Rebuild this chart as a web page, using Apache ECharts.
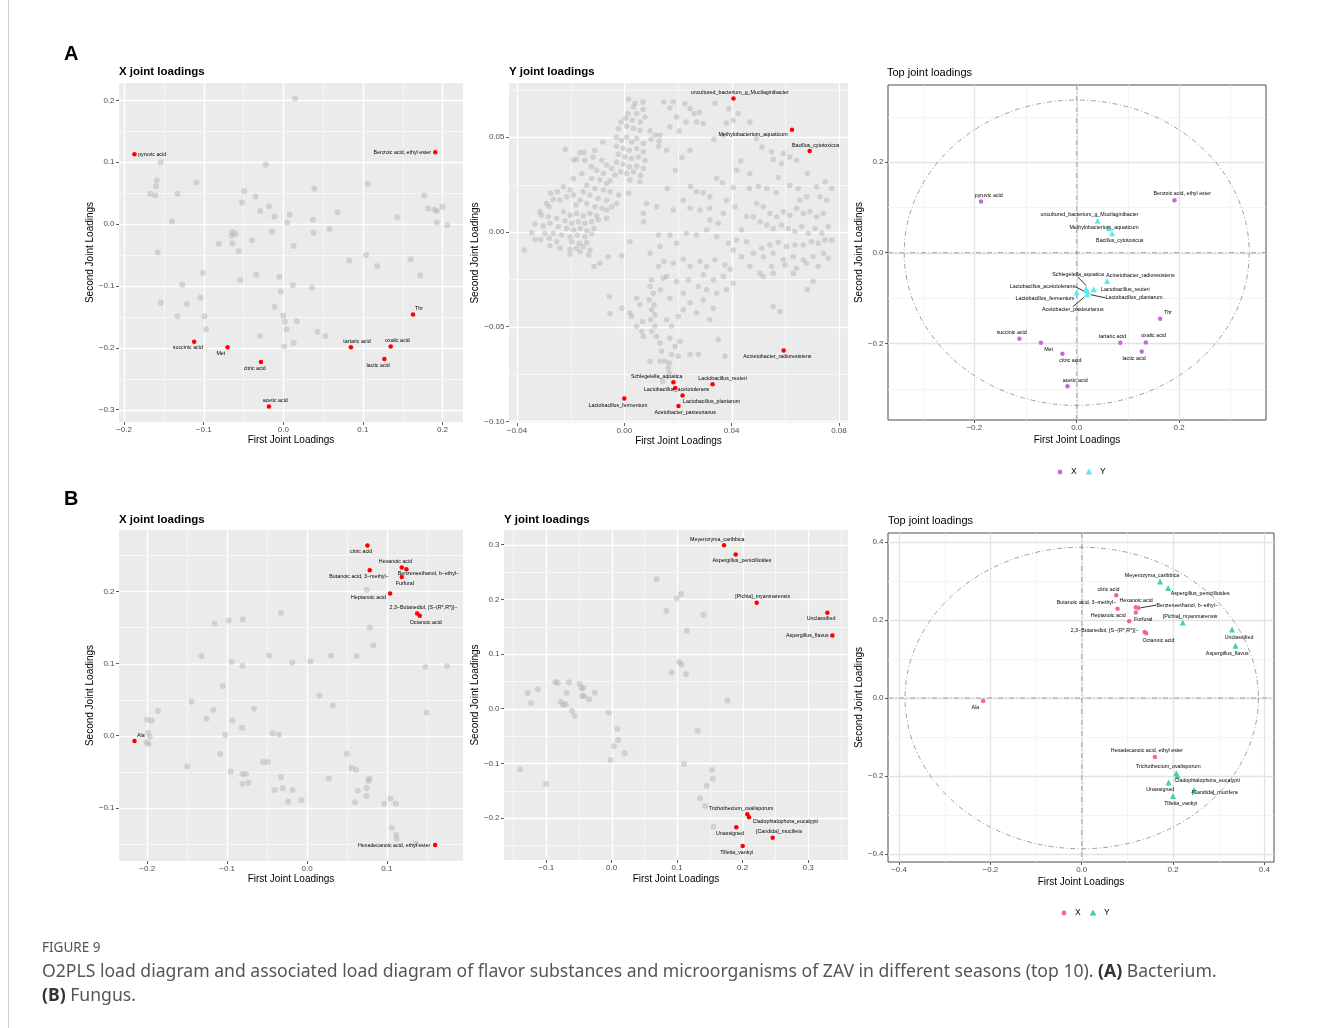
<!doctype html>
<html>
<head>
<meta charset="UTF-8">
<title>O2PLS joint loadings</title>
<script src="https://cdn.jsdelivr.net/npm/echarts@6.0.0/dist/echarts.min.js"></script>
<style>
html,body{margin:0;padding:0;background:#fff}
#chart{width:1329px;height:1028px}
</style>
</head>
<body>
<div id="chart"></div>
<script>
// ---- data: bacterium (A) ----
var bactFlavorNames = ['pyruvic acid', 'Benzoic acid, ethyl ester', 'Thr', 'oxalic acid', 'tartaric acid',
  'lactic acid', 'succinic acid', 'Met', 'citric acid', 'acetic acid'];
var bactFlavorXY = [[-0.187,0.113],[0.191,0.116],[0.163,-0.146],[0.135,-0.198],[0.085,-0.199],
  [0.127,-0.218],[-0.112,-0.190],[-0.070,-0.199],[-0.028,-0.223],[-0.018,-0.295]];
var bactFlavorOther = [[0.015,0.203],[-0.154,0.100],[-0.022,0.096],[-0.159,0.071],[-0.160,0.061],[-0.109,0.067],
  [0.106,0.065],[-0.167,0.049],[-0.161,0.046],[-0.133,0.049],[-0.049,0.053],[-0.035,0.044],[-0.052,0.035],
  [0.039,0.057],[-0.018,0.029],[-0.029,0.021],[-0.011,0.012],[0.008,0.015],[0.005,0.002],[0.177,0.046],
  [0.182,0.025],[0.190,0.023],[0.193,0.021],[0.200,0.028],[0.193,0.002],[0.206,-0.002],[0.143,0.011],
  [0.068,0.019],[0.037,0.007],[0.038,-0.014],[0.058,-0.008],[-0.140,0.004],[-0.158,-0.046],[-0.064,-0.013],
  [-0.060,-0.016],[-0.065,-0.019],[-0.081,-0.032],[-0.064,-0.031],[-0.039,-0.026],[-0.014,-0.012],
  [0.013,-0.035],[-0.056,-0.044],[0.104,-0.050],[0.083,-0.059],[0.118,-0.068],[0.160,-0.057],[0.172,-0.083],
  [-0.101,-0.079],[-0.127,-0.098],[-0.054,-0.091],[-0.034,-0.082],[-0.005,-0.085],[0.012,-0.099],
  [0.036,-0.102],[-0.003,-0.109],[-0.104,-0.119],[-0.154,-0.127],[-0.121,-0.129],[-0.133,-0.149],
  [-0.099,-0.149],[-0.097,-0.170],[-0.011,-0.134],[0.000,-0.148],[0.002,-0.158],[0.017,-0.157],
  [0.004,-0.170],[0.043,-0.174],[0.053,-0.181],[-0.029,-0.181],[0.001,-0.198],[0.013,-0.192]];

var bactMicrobeNames = ['uncultured_bacterium_g_Mucilaginibacter', 'Methylobacterium_aquaticum', 'Bacillus_cytotoxicus',
  'Acinetobacter_radioresistens', 'Schlegelella_aquatica', 'Lactobacillus_acetotolerans', 'Lactobacillus_reuteri',
  'Lactobacillus_plantarum', 'Lactobacillus_fermentum', 'Acetobacter_pasteurianus'];
var bactMicrobeXY = [[0.0407,0.0704],[0.0625,0.0539],[0.0691,0.0428],[0.0594,-0.0626],[0.0183,-0.0793],
  [0.0190,-0.0823],[0.0329,-0.0804],[0.0217,-0.0863],[0.0000,-0.0879],[0.0202,-0.0918]];
var bactMicrobeOther = [
  [-0.022,0.0435],[-0.015,0.042],[-0.008,0.0475],[-0.011,0.043],
  [0.0016,0.070],[0.004,0.068],[0.007,0.0686],[0.0034,0.066],[0.0014,0.0625],[0.0046,0.0625],[0.007,0.0646],
  [-0.0012,0.058],[0.0005,0.060],[0.003,0.059],[0.006,0.058],[0.0077,0.0607],[-0.0022,0.0546],[0.0009,0.0558],
  [0.0034,0.0546],[0.0058,0.0537],[0.0096,0.0533],[0.0116,0.051],[0.013,0.048],[0.010,0.049],
  [-0.0029,0.050],[-0.001,0.0484],[0.0009,0.050],[0.0027,0.0475],[0.0046,0.0493],[0.0071,0.0467],
  [-0.0029,0.0453],[-0.0004,0.044],[0.0019,0.0432],[0.0046,0.044],[0.0071,0.0423],[-0.0022,0.041],
  [0.0002,0.0396],[0.0027,0.0388],[0.0052,0.0396],[0.0077,0.0379],[-0.0029,0.037],[-0.0004,0.0358],
  [0.0019,0.0344],[0.0046,0.0347],[0.0071,0.0335],[-0.0014,0.0318],[0.0009,0.0309],[0.0034,0.0318],
  [0.0061,0.030],[-0.0035,0.030],[-0.0047,0.0335],[-0.0053,0.027],[0.0021,0.0274],[0.0058,0.0265],
  [0.0016,0.0204],[-0.0021,0.0195],
  [-0.0084,0.0379],[-0.0066,0.0353],[-0.0103,0.0326],[-0.0078,0.0309],[-0.0122,0.0282],[-0.0091,0.0274],
  [-0.0066,0.0256],[-0.014,0.0247],[-0.0109,0.023],[-0.0078,0.0221],[-0.0053,0.0212],[-0.0153,0.0212],
  [-0.0128,0.0195],[-0.0097,0.0177],[-0.0066,0.0168],[-0.0165,0.0168],[-0.014,0.0151],[-0.0109,0.0133],
  [-0.0084,0.0125],[-0.018,0.0142],[-0.0202,0.0221],[-0.0215,0.0186],[-0.019,0.0195],[-0.0227,0.0239],
  [-0.024,0.0168],[-0.025,0.0212],[-0.0275,0.0204],[-0.0265,0.0172],[-0.029,0.0151],[-0.0314,0.0107],
  [-0.028,0.0133],[-0.0147,0.0379],[-0.0122,0.0344],[-0.0158,0.0309],[-0.019,0.0282],[-0.0178,0.0382],
  [-0.0116,0.0396],[-0.0165,0.0418],[-0.019,0.038],
  [-0.0227,0.0107],[-0.0202,0.0089],[-0.0178,0.0098],[-0.0153,0.0084],[-0.0128,0.0098],[-0.0103,0.0084],
  [-0.0252,0.0072],[-0.0221,0.006],[-0.0196,0.0046],[-0.0171,0.0054],[-0.0147,0.0046],[-0.0122,0.0054],
  [-0.0097,0.0063],[-0.0277,0.0046],[-0.0302,0.0032],[-0.0333,0.0042],[-0.0246,0.0028],[-0.0215,0.0019],
  [-0.019,0.0011],[-0.0165,0.0019],[-0.014,0.0007],[-0.0113,0.0019],[-0.0265,-0.0007],[-0.0234,-0.0016],
  [-0.0202,-0.0025],[-0.0175,-0.0016],[-0.0147,-0.0025],[-0.0122,-0.0011],[-0.028,-0.0033],[-0.0252,-0.0051],
  [-0.0196,-0.0051],[-0.0168,-0.006],[-0.014,-0.0056],[-0.0296,-0.0007],[-0.0312,-0.0039],[-0.0333,-0.0039],
  [-0.0373,-0.0095],[-0.0277,-0.0072],[-0.0202,-0.0091],[-0.0178,-0.0086],[-0.0153,-0.0077],[-0.0128,-0.0095],
  [-0.0202,-0.0116],[-0.0165,-0.0104],[-0.0132,-0.0121],[-0.0113,-0.0182],[-0.0091,-0.0165],[-0.006,-0.013],
  [-0.0009,-0.0126],[-0.0309,0.0088],[-0.0283,0.0081],[-0.0345,-0.0004],[-0.024,-0.0086],[-0.0066,0.0116],
  [-0.0047,0.0133],[-0.0029,0.0151],[-0.0066,0.0072],
  [0.0147,0.0686],[0.0183,0.0686],[0.017,0.0654],[0.0226,0.0677],[0.0195,0.0607],[0.023,0.058],[0.017,0.0554],
  [0.0205,0.0533],[0.0133,0.051],[0.0128,0.0453],[0.0158,0.0432],[0.0215,0.0393],[0.019,0.0326],[0.0245,0.0432],
  [0.0247,0.0242],[0.016,0.023],[0.0083,0.0151],[0.0121,0.0133],[0.0183,0.0116],[0.0071,0.0098],[0.0021,-0.0051],
  [0.0072,0.0054],
  [0.0245,0.065],[0.026,0.0625],[0.028,0.063],[0.027,0.058],[0.0294,0.0572],[0.0338,0.068],[0.039,0.065],
  [0.038,0.0575],[0.0406,0.059],[0.0425,0.0625],[0.0468,0.058],[0.0334,0.049],[0.0369,0.051],
  [0.0513,0.0449],[0.0549,0.0423],[0.0555,0.0382],[0.0593,0.0414],[0.0617,0.0396],[0.0642,0.0379],
  [0.0493,0.0493],[0.0434,0.0375],[0.0419,0.0326],[0.0468,0.0309],[0.0586,0.0361],[0.0648,0.023],
  [0.0617,0.0247],[0.0574,0.0288],[0.0682,0.0309],[0.0717,0.0239],[0.0748,0.0265],[0.0773,0.023],
  [0.0729,0.0186],[0.0754,0.0168],[0.0679,0.0186],[0.0655,0.0168],[0.0344,0.0282],[0.0366,0.026],
  [0.0406,0.0235],[0.0466,0.023],[0.05,0.0242],[0.0531,0.023],[0.0566,0.0207],[0.0294,0.0207],
  [0.0319,0.0186],[0.0269,0.0212],
  [0.0493,0.0151],[0.0518,0.0133],[0.0543,0.0098],[0.0568,0.0081],[0.0593,0.0107],[0.0617,0.0089],
  [0.0642,0.0125],[0.0667,0.0098],[0.0692,0.0107],[0.0717,0.0081],[0.0742,0.0098],[0.0481,0.0081],
  [0.0506,0.0054],[0.0531,0.0037],[0.0555,0.0019],[0.0586,0.0037],[0.0611,0.0019],[0.0636,0.0002],
  [0.0661,0.0028],[0.0686,-0.0007],[0.0711,0.0019],[0.0736,-0.0007],[0.076,0.0028],[0.0773,-0.0042],
  [0.0748,-0.0042],[0.0723,-0.006],[0.0698,-0.0051],[0.0667,-0.0068],[0.0636,-0.0068],[0.0605,-0.0077],
  [0.0574,-0.0056],[0.0543,-0.0068],[0.0512,-0.0086],[0.0481,-0.0112],[0.0518,-0.013],[0.0555,-0.0112],
  [0.0593,-0.0147],[0.063,-0.013],[0.0667,-0.0147],[0.0704,-0.013],[0.0742,-0.0112],[0.076,-0.0139],
  [0.0723,-0.0182],[0.0679,-0.0165],[0.0642,-0.0191],[0.0598,-0.0174],[0.0549,-0.0182],[0.0456,0.0081],
  [0.0437,0.0011],[0.0419,-0.0042],[0.0456,-0.0051],[0.0406,-0.0095],[0.0437,-0.013],[0.0468,-0.0182],
  [0.0506,-0.0218],[0.0555,-0.0218],[0.063,-0.0218],[0.0704,-0.0261],[0.0682,-0.0305],[0.058,-0.0419],
  [0.0555,-0.0393],[0.0518,-0.0235],
  [0.0127,-0.0016],[0.017,-0.0016],[0.0195,-0.006],[0.0232,-0.0007],[0.0269,-0.0016],[0.0307,0.0011],
  [0.035,0.0046],[0.0369,0.0098],[0.0319,0.0125],[0.0282,0.0116],[0.0245,0.0125],[0.022,0.0168],
  [0.0381,0.0168],[0.0413,0.0133],[0.0319,0.0063],[0.0344,-0.0025],[0.0388,-0.006],[0.0148,-0.0156],
  [0.0183,-0.0165],[0.022,-0.0144],[0.0245,-0.0182],[0.0282,-0.0156],[0.0307,-0.0182],[0.0338,-0.0147],
  [0.0375,-0.0174],[0.0394,-0.0196],[0.0294,-0.0226],[0.0332,-0.0253],[0.0369,-0.0235],[0.0406,-0.027],
  [0.0239,-0.0253],[0.0276,-0.0288],[0.0307,-0.0305],[0.0344,-0.0323],[0.0381,-0.0305],[0.0158,-0.0235],
  [0.0195,-0.0261],[0.022,-0.0323],[0.017,-0.0349],[0.0245,-0.0375],[0.0294,-0.0358],[0.0332,-0.0402],
  [0.0269,-0.0428],[0.0319,-0.0463],[0.035,-0.0568],[0.0375,-0.0656],[0.0245,-0.0647],[0.0276,-0.0647],
  [0.0102,-0.0253],[0.0096,-0.0288],[0.0108,-0.0323],[0.0093,-0.0358],[0.0111,-0.0384],[0.0102,-0.041],
  [0.0114,-0.0437],[0.0098,-0.0463],[0.0114,-0.0498],[0.0102,-0.0525],[0.012,-0.0551],[0.0133,-0.0586],
  [0.0139,-0.063],[0.0152,-0.0682],[0.0168,-0.0691],[0.0133,-0.0682],[0.0096,-0.0682],[0.0071,-0.0551],
  [0.0065,-0.0525],[0.0046,-0.0498],[0.0068,-0.0472],[0.0058,-0.0384],[0.0046,-0.0349],[0.0027,-0.0446],
  [-0.0056,-0.034],[-0.0009,-0.0402],[-0.0053,-0.0432],[0.0021,-0.0428],[0.0135,-0.0305],[0.0145,-0.0244],
  [0.0127,-0.0182],[0.0158,-0.0463],[0.0176,-0.0498],[0.017,-0.056],[0.0189,-0.0604],[0.0176,-0.0647],
  [0.0201,-0.0656],[0.0207,-0.0577],[0.0201,-0.0446],[0.022,-0.041],[0.0133,-0.0077],[0.0096,-0.0112],
  [0.0167,-0.0744],[0.0143,-0.0788],[0.0164,-0.0718]];

// ---- data: fungus (B) ----
var fungusFlavorNames = ['citric acid', 'Hexanoic acid', 'Benzeneethanol, b\u2212ethyl\u2212', 'Butanoic acid, 3\u2212methyl\u2212',
  'Furfural', 'Heptanoic acid', '2,3\u2212Butanediol, [S\u2212(R*,R*)]\u2212', 'Octanoic acid', 'Ala', 'Hexadecanoic acid, ethyl ester'];
var fungusFlavorXY = [[0.0756,0.2635],[0.1186,0.2330],[0.1244,0.2307],[0.0785,0.2293],[0.1186,0.2197],
  [0.1040,0.1970],[0.1378,0.1694],[0.1411,0.1661],[-0.2159,-0.0074],[0.1603,-0.1514]];
var fungusFlavorOther = [[0.0747,0.2021],[-0.0326,0.1703],[-0.1157,0.1555],[-0.0981,0.1597],[-0.0802,0.1611],
  [0.0785,0.1500],[0.0831,0.1251],[-0.1324,0.1103],[-0.0944,0.1020],[-0.0806,0.0969],[-0.0476,0.1112],
  [-0.0184,0.1011],[0.0042,0.1029],[0.0301,0.1108],[0.0622,0.1103],[0.1482,0.0951],[0.1754,0.0964],
  [-0.1056,0.0688],[0.0154,0.0558],[0.0322,0.0420],[0.1495,0.0323],[-0.1445,0.0471],[-0.1866,0.0341],
  [-0.1257,0.0235],[-0.1173,0.0355],[-0.0664,0.0374],[-0.0931,0.0212],[-0.2000,0.0222],[-0.1942,0.0208],
  [-0.0814,0.0111],[-0.1023,0.0009],[-0.0430,0.0032],[-0.0351,0.0014],[-0.1987,0.0042],[-0.1967,-0.0014],
  [-0.2008,-0.0092],[-0.1983,-0.0115],[-0.1086,-0.0254],[-0.1499,-0.0425],[-0.0547,-0.0365],[-0.0493,-0.0365],
  [0.0497,-0.0249],[0.0555,-0.0448],[0.0614,-0.0471],[-0.0956,-0.0494],[-0.0806,-0.0531],[-0.0764,-0.0531],
  [-0.0810,-0.0665],[-0.0735,-0.0651],[-0.0326,-0.0572],[-0.0305,-0.0729],[-0.0405,-0.0752],[-0.0180,-0.0752],
  [-0.0234,-0.0914],[-0.0071,-0.0895],[0.0271,-0.0591],[0.0781,-0.0591],[0.0768,-0.0628],[0.0747,-0.0725],
  [0.0635,-0.0761],[0.0743,-0.0835],[0.0601,-0.0923],[0.0965,-0.0941],[0.1044,-0.0872],[0.1111,-0.0937],
  [0.1061,-0.1274],[0.1115,-0.1371],[0.1123,-0.1426],[0.1365,-0.1500]];

var fungusMicrobeNames = ['Meyerozyma_caribbica', 'Aspergillus_penicillioides', '[Pichia]_myanmarensis', 'Unclassified',
  'Aspergillus_flavus', 'Trichothecium_ovalisporum', 'Cladophialophora_eucalypti', 'Unassigned', '[Candida]_mucifera', 'Tilletia_vankyi'];
var fungusMicrobeXY = [[0.1715,0.2988],[0.1893,0.2823],[0.2214,0.1939],[0.3293,0.1756],[0.3369,0.1341],
  [0.2071,-0.1933],[0.2097,-0.1988],[0.1903,-0.2171],[0.2458,-0.2360],[0.2000,-0.2512]];
var fungusMicrobeOther = [[0.0687,0.2366],[0.1059,0.2098],[0.0992,0.2018],[0.0835,0.1787],[0.1399,0.1720],
  [0.1150,0.1427],[0.1033,0.0854],[0.1069,0.0805],[0.0911,0.0665],[0.1135,0.0628],[0.1766,0.0152],
  [-0.0860,0.0488],[-0.0824,0.0470],[-0.0651,0.0482],[-0.0489,0.0457],[-0.0463,0.0378],[-0.0433,0.0378],
  [-0.0453,0.0232],[-0.0422,0.0232],[-0.0346,0.0171],[-0.0260,0.0293],[-0.0687,0.0293],[-0.0779,0.0122],
  [-0.0702,0.0079],[-0.0743,0.0067],[-0.0606,-0.0043],[-0.0565,-0.0134],[-0.1282,0.0287],[-0.1130,0.0354],
  [-0.1232,0.0104],[-0.0046,-0.0073],[0.0087,-0.0366],[0.0102,-0.0573],[0.0031,-0.0689],[0.0198,-0.0817],
  [-0.0020,-0.0939],[0.1313,-0.0402],[0.1104,-0.1012],[0.1532,-0.1122],[0.1542,-0.1280],[0.1450,-0.1409],
  [0.1349,-0.1640],[0.1425,-0.1780],[0.1552,-0.2159],[-0.1399,-0.1110],[-0.1003,-0.1378]];

// radius of the reference circle on the "Top joint loadings" panels
var bactCircleR = 0.337;
var fungusCircleR = 0.387;

// ---- tick values ----
var a1XTicks = [-0.2,-0.1,0,0.1,0.2], a1XMinor = [-0.15,-0.05,0.05,0.15];
var a1YTicks = [-0.3,-0.2,-0.1,0,0.1,0.2], a1YMinor = [-0.25,-0.15,-0.05,0.05,0.15];
var a2XTicks = [-0.04,0,0.04,0.08], a2XMinor = [-0.02,0.02,0.06];
var a2YTicks = [-0.1,-0.05,0,0.05], a2YMinor = [-0.075,-0.025,0.025,0.075];
var a3Ticks = [-0.2,0,0.2], a3Minor = [-0.3,-0.1,0.1,0.3];
var b1XTicks = [-0.2,-0.1,0,0.1], b1XMinor = [-0.15,-0.05,0.05,0.15];
var b1YTicks = [-0.1,0,0.1,0.2], b1YMinor = [-0.15,-0.05,0.05,0.15,0.25];
var b2XTicks = [-0.1,0,0.1,0.2,0.3], b2XMinor = [-0.15,-0.05,0.05,0.15,0.25,0.35];
var b2YTicks = [-0.2,-0.1,0,0.1,0.2,0.3], b2YMinor = [-0.25,-0.15,-0.05,0.05,0.15,0.25];
var b3Ticks = [-0.4,-0.2,0,0.2,0.4], b3Minor = [-0.3,-0.1,0.1,0.3];

// label nudges (px) for the named points, ggrepel-like
var nudge = {
  a1: [[17.7,0],[-33,0],[6,-6.3],[6.7,-6],[6,-6],[-6.3,6.3],[-6.3,6.3],[-6.7,6.3],[-6.3,6.7],[6.3,-6]],
  a2: [[6.3,-6],[-39,4.3],[6,-5.7],[-6.3,6.3],[-16.7,-6],[1.3,1.7],[10,-5.7],[29,6.3],[-6.3,6.7],[6.7,6.3]],
  a3x: [[7.7,-6.3],[7.7,-6.3],[7.7,-6.3],[7.7,-6.7],[-7.7,-6.7],[-7.7,7.3],[-7.7,-6.3],[7.7,7],[8,7],[7.7,-6.3]],
  a3y: [[-8,-6],[-4.7,-0.7],[7.7,7.7],[33.3,-5.7],[-8,-14],[-44,-3.3],[31.7,0],[46.3,6],[-31.7,6.3],[-14.3,15]],
  b1: [[-6.3,6.3],[-6.3,-5.7],[22,4.3],[-10.7,6.3],[3,6.7],[-21.7,3.7],[6.3,-6.3],[6,6.3],[6.3,-6],[-41,0]],
  b2: [[-6.7,-5.7],[6.3,6.3],[6,-6],[-6.3,6.3],[-25,0],[-6.3,-5.7],[36.3,4.3],[-6.3,6.3],[6.3,-5.7],[-6,6.3]],
  b3x: [[-7.7,-6],[0.3,-6.7],[48.7,-3],[-31,-6.3],[7.3,7.3],[-21,-5.3],[-40,-1],[12.3,7],[-7.7,7],[-8,-6.7]],
  b3y: [[-8,-5.7],[32,5.7],[7.3,-6],[7,7.7],[-8.3,8],[-8,-6.3],[29.7,5],[-8.3,7.3],[20.7,2.3],[7.7,7.3]]
};
var leaders = { a3y: [4,5,7,9], b3x: [2] };

var FONT = 'Liberation Sans, Arial, sans-serif';

// panel layout
var panels = [
  {box:[119,83,344,339], x:[-0.2064,0.2258], y:[-0.3199,0.228], xt:a1XTicks, xm:a1XMinor, yt:a1YTicks, ym:a1YMinor, d:1, bw:false, xg:13, yg:22.5},
  {box:[509,83,339,340], x:[-0.04297,0.08338], y:[-0.1008,0.07863], xt:a2XTicks, xm:a2XMinor, yt:a2YTicks, ym:a2YMinor, d:2, bw:false, xg:12.5, yg:28},
  {box:[888,85,378,335], x:[-0.3686,0.3697], y:[-0.3693,0.3702], xt:a3Ticks, xm:a3Minor, yt:a3Ticks, ym:a3Minor, d:1, bw:true, xg:15.7, yg:21},
  {box:[119,530,344,331], x:[-0.2353,0.1952], y:[-0.1735,0.2849], xt:b1XTicks, xm:b1XMinor, yt:b1YTicks, ym:b1YMinor, d:1, bw:false, xg:13.3, yg:22.6},
  {box:[504,530,344,330], x:[-0.1644,0.3608], y:[-0.2768,0.3269], xt:b2XTicks, xm:b2XMinor, yt:b2YTicks, ym:b2YMinor, d:1, bw:false, xg:14, yg:23.3},
  {box:[888,533,386,329], x:[-0.4243,0.4212], y:[-0.4209,0.4235], xt:b3Ticks, xm:b3Minor, yt:b3Ticks, ym:b3Minor, d:1, bw:true, xg:15, yg:21.6}
];

function fmt(d) {
  return function (v) { return (v < 0 ? '\u2212' : '') + Math.abs(v).toFixed(d); };
}

var grids = [], xAxes = [], yAxes = [], series = [];

panels.forEach(function (p, i) {
  grids.push({
    left: p.box[0], top: p.box[1], width: p.box[2], height: p.box[3],
    show: true, containLabel: false, outerBoundsMode: 'none',
    backgroundColor: p.bw ? '#ffffff' : '#ebebeb',
    borderWidth: p.bw ? 1 : 0, borderColor: '#4d4d4d'
  });
  var common = {
    type: 'value', gridIndex: i, axisLine: {show: false, onZero: false}, splitLine: {show: false},
    nameLocation: 'middle', nameTextStyle: {color: '#000', fontSize: 10, fontFamily: FONT}
  };
  xAxes.push(Object.assign({}, common, {
    min: p.x[0], max: p.x[1], position: 'bottom',
    name: 'First Joint Loadings', nameGap: p.xg,
    axisTick: {show: true, customValues: p.xt, length: 3, lineStyle: {color: '#333', width: 0.8}},
    axisLabel: {customValues: p.xt, formatter: fmt(p.d), color: '#4d4d4d', fontSize: 8, margin: 4, fontFamily: FONT}
  }));
  yAxes.push(Object.assign({}, common, {
    min: p.y[0], max: p.y[1], position: 'left',
    name: 'Second Joint Loadings', nameGap: p.yg, nameRotate: 90,
    axisTick: {show: true, customValues: p.yt, length: 3, lineStyle: {color: '#333', width: 0.8}},
    axisLabel: {customValues: p.yt, formatter: fmt(p.d), color: '#4d4d4d', fontSize: 8, margin: 4.5, fontFamily: FONT}
  }));

  // grid lines (major + minor), drawn under the points
  var gl = [];
  p.xt.forEach(function (v) { gl.push([v, 0, 1]); });
  p.xm.forEach(function (v) { gl.push([v, 0, 0]); });
  p.yt.forEach(function (v) { gl.push([v, 1, 1]); });
  p.ym.forEach(function (v) { gl.push([v, 1, 0]); });
  var majC = p.bw ? '#e3e3e3' : '#ffffff';
  var minC = p.bw ? '#f1f1f1' : '#fafafa';
  series.push({
    type: 'custom', xAxisIndex: i, yAxisIndex: i, z: 1, silent: true, data: gl,
    renderItem: function (params, api) {
      var v = api.value(0), dir = api.value(1), major = api.value(2);
      var cs = params.coordSys, shape;
      if (dir === 0) {
        var x = Math.round(api.coord([v, 0])[0]) + 0.5;
        shape = {x1: x, y1: cs.y, x2: x, y2: cs.y + cs.height};
      } else {
        var y = Math.round(api.coord([0, v])[1]) + 0.5;
        shape = {x1: cs.x, y1: y, x2: cs.x + cs.width, y2: y};
      }
      return {type: 'line', shape: shape, style: {stroke: major ? majC : minC, lineWidth: major ? 1.3 : 0.8}};
    }
  });
});

function labelledSeries(gi, names, xy, shifts, lead, opts) {
  lead = lead || [];
  return {
    type: 'scatter', xAxisIndex: gi, yAxisIndex: gi, z: 4, silent: true,
    symbol: opts.symbol || 'circle', symbolSize: opts.size,
    itemStyle: {color: opts.color, opacity: 1},
    label: {show: true, position: 'inside', formatter: '{b}', color: '#000', fontSize: 5.3, fontFamily: FONT},
    labelLine: {show: false, lineStyle: {color: '#000', width: 0.8}},
    labelLayout: function (prm) {
      var o = shifts[prm.dataIndex];
      return {dx: o[0], dy: o[1]};
    },
    data: names.map(function (n, k) {
      var item = {name: n, value: xy[k]};
      if (lead.indexOf(k) >= 0) item.labelLine = {show: true, length2: 0, lineStyle: {color: '#000', width: 0.8}};
      return item;
    })
  };
}

function greySeries(gi, pts, size) {
  return {
    type: 'scatter', xAxisIndex: gi, yAxisIndex: gi, z: 2, silent: true,
    symbolSize: size, itemStyle: {color: 'rgba(172,172,172,0.55)'}, data: pts
  };
}

function circleSeries(gi, r) {
  return {
    type: 'custom', xAxisIndex: gi, yAxisIndex: gi, z: 2, silent: true, data: [[0, 0]],
    renderItem: function (params, api) {
      var cs = params.coordSys, c = api.coord([0, 0]), s = api.size([r, r]);
      var pts = [];
      for (var k = 0; k <= 180; k++) {
        var t = k / 180 * 2 * Math.PI;
        pts.push([c[0] + s[0] * Math.cos(t), c[1] + s[1] * Math.sin(t)]);
      }
      var st = {stroke: '#8a8a8a', lineWidth: 0.8, lineDash: [5, 2.5, 1, 2.5], fill: null};
      return {type: 'group', children: [
        {type: 'polyline', shape: {points: pts}, style: st},
        {type: 'line', shape: {x1: c[0], y1: cs.y, x2: c[0], y2: cs.y + cs.height}, style: st},
        {type: 'line', shape: {x1: cs.x, y1: c[1], x2: cs.x + cs.width, y2: c[1]}, style: st}
      ]};
    }
  };
}

var RED = '#ff0000', PURPLE = '#c26ade', CYAN = '#5ee8ee', PINK = '#f2669b', GREEN = '#45d493';

series.push(greySeries(0, bactFlavorOther, 6));
series.push(labelledSeries(0, bactFlavorNames, bactFlavorXY, nudge.a1, null, {color: RED, size: 4.5}));
series.push(greySeries(1, bactMicrobeOther, 5.5));
series.push(labelledSeries(1, bactMicrobeNames, bactMicrobeXY, nudge.a2, null, {color: RED, size: 4.5}));
series.push(circleSeries(2, bactCircleR));
series.push(labelledSeries(2, bactFlavorNames, bactFlavorXY, nudge.a3x, null, {color: PURPLE, size: 4.5}));
series.push(labelledSeries(2, bactMicrobeNames, bactMicrobeXY, nudge.a3y, leaders.a3y, {color: CYAN, size: 6, symbol: 'triangle'}));
series.push(greySeries(3, fungusFlavorOther, 6));
series.push(labelledSeries(3, fungusFlavorNames, fungusFlavorXY, nudge.b1, null, {color: RED, size: 4.5}));
series.push(greySeries(4, fungusMicrobeOther, 6));
series.push(labelledSeries(4, fungusMicrobeNames, fungusMicrobeXY, nudge.b2, null, {color: RED, size: 4.5}));
series.push(circleSeries(5, fungusCircleR));
series.push(labelledSeries(5, fungusFlavorNames, fungusFlavorXY, nudge.b3x, leaders.b3x, {color: PINK, size: 4.5}));
series.push(labelledSeries(5, fungusMicrobeNames, fungusMicrobeXY, nudge.b3y, null, {color: GREEN, size: 6, symbol: 'triangle'}));

// titles, panel letters, legends, caption
function txt(x, y, text, size, weight, color, family) {
  return {type: 'text', x: x, y: y, silent: true, style: {
    text: text, fontSize: size, fontWeight: weight || 'normal', fill: color || '#000',
    fontFamily: family || FONT, verticalAlign: 'middle', align: 'left'}};
}
function legend(x, y, c1, c2) {
  return [
    {type: 'circle', shape: {cx: x, cy: y, r: 2.4}, style: {fill: c1}, silent: true},
    txt(x + 11, y, 'X', 8.5),
    {type: 'polygon', shape: {points: [[x + 29, y - 3.4], [x + 25.6, y + 2.4], [x + 32.4, y + 2.4]]}, style: {fill: c2}, silent: true},
    txt(x + 40, y, 'Y', 8.5)
  ];
}

var capRich = {b: {fontSize: 17.6, fontWeight: 'bold', fill: '#333', fontFamily: 'Noto Sans'}};
var graphics = [
  {type: 'line', shape: {x1: 8.5, y1: 0, x2: 8.5, y2: 1028}, style: {stroke: '#cfcfcf', lineWidth: 1}, silent: true},
  txt(64, 54, 'A', 20, 'bold'),
  txt(64, 499, 'B', 20, 'bold'),
  txt(119, 72, 'X joint loadings', 11.5, 'bold'),
  txt(509, 72, 'Y joint loadings', 11.5, 'bold'),
  txt(887, 73, 'Top joint loadings', 11),
  txt(119, 519.5, 'X joint loadings', 11.5, 'bold'),
  txt(504, 519.5, 'Y joint loadings', 11.5, 'bold'),
  txt(888, 521, 'Top joint loadings', 11),
  txt(42, 948.5, 'FIGURE 9', 13.5, 'normal', '#555', 'Noto Sans'),
  {type: 'text', x: 42, y: 972, silent: true, style: {
    text: 'O2PLS load diagram and associated load diagram of flavor substances and microorganisms of ZAV in different seasons (top 10). {b|(A)} Bacterium.',
    fontSize: 17.6, fill: '#555', fontFamily: 'Noto Sans', verticalAlign: 'middle', align: 'left', rich: capRich}},
  {type: 'text', x: 42, y: 996, silent: true, style: {
    text: '{b|(B)} Fungus.', fontSize: 17.6, fill: '#555', fontFamily: 'Noto Sans', verticalAlign: 'middle', align: 'left',
    rich: capRich}}
].concat(legend(1060, 472, PURPLE, CYAN)).concat(legend(1064, 913, PINK, GREEN));

var chart = echarts.init(document.getElementById('chart'), null, {renderer: 'canvas'});
chart.setOption({
  animation: false,
  backgroundColor: '#ffffff',
  grid: grids,
  xAxis: xAxes,
  yAxis: yAxes,
  series: series,
  graphic: graphics
});
</script>
</body>
</html>
